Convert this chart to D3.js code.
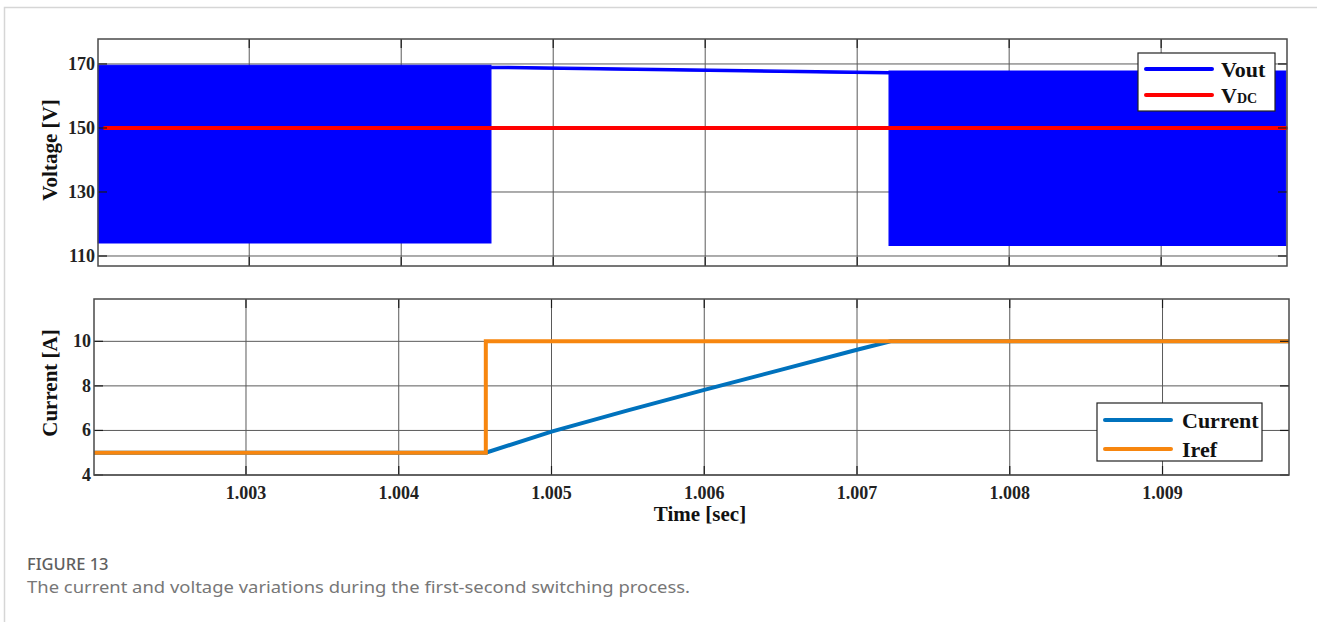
<!DOCTYPE html>
<meta charset="utf-8">
<script src="https://d3js.org/d3.v7.min.js"></script>
<style>
  body { margin: 0; background: #fff; }
  .tick-lbl { font-family: "Liberation Serif", serif; font-weight: bold; font-size: 18px; fill: #222; }
  .ax-lbl { font-family: "Liberation Serif", serif; font-weight: bold; font-size: 21px; fill: #111; }
  .leg { font-family: "Liberation Serif", serif; font-weight: bold; font-size: 22px; fill: #111; }
</style>
<div id="chart"></div>
<script>

// time axis ticks (both panels)
var timeTicks = [1.003, 1.004, 1.005, 1.006, 1.007, 1.008, 1.009];
var voltTicks = [110, 130, 150, 170];
var currTicks = [4, 6, 8, 10];

// Vout envelope (switching band)
var voutT  = [1.002007, 1.00459, 1.00459, 1.00721, 1.00721, 1.00982];
var voutHi = [169.6, 169.6, 169.3, 167.6, 167.8, 167.8];
var voutLo = [114.1, 114.1, 168.6, 166.9, 113.3, 113.3];

// DC link voltage
var vdcT = [1.00205, 1.00982];
var vdcV = [150, 150];

// load current and reference
var curT = [1.002005, 1.00457, 1.005, 1.0055, 1.006, 1.0065, 1.007, 1.00722, 1.009828];
var curV = [5, 5, 5.95, 6.9, 7.82, 8.72, 9.62, 10, 10];
var irefT = [1.002005, 1.00457, 1.00457, 1.009828];
var irefV = [5, 5, 10, 10];

var W = 1317, H = 622;
var svg = d3.select("#chart").append("svg")
  .attr("width", W).attr("height", H);

svg.append("rect").attr("width", W).attr("height", H).attr("fill", "#fff");

// page frame (left and top edges)
svg.append("path")
  .attr("d", "M4.5," + H + "V7.5H" + W)
  .attr("fill", "none").attr("stroke", "#d6d6d6").attr("stroke-width", 1.5);

var tDomain = [1.002005, 1.009828];

function panel(box, yDomain, yTicks, showX) {
  var x = d3.scaleLinear().domain(tDomain).range([box.left, box.right]);
  var y = d3.scaleLinear().domain(yDomain).range([box.bottom, box.top]);
  var g = svg.append("g");
  // grid
  g.selectAll(".gx").data(timeTicks).enter().append("line")
    .attr("x1", function(d) { return x(d); }).attr("x2", function(d) { return x(d); })
    .attr("y1", box.top).attr("y2", box.bottom)
    .attr("stroke", "#5a5a5a").attr("stroke-width", 1);
  g.selectAll(".gy").data(yTicks).enter().append("line")
    .attr("x1", box.left).attr("x2", box.right)
    .attr("y1", function(d) { return y(d); }).attr("y2", function(d) { return y(d); })
    .attr("stroke", "#5a5a5a").attr("stroke-width", 1);
  // y tick labels
  g.selectAll(".ly").data(yTicks).enter().append("text")
    .attr("class", "tick-lbl")
    .attr("x", box.left - 3)
    .attr("y", function(d) { return y(d) + 6; })
    .attr("text-anchor", "end")
    .text(function(d) { return d; });
  if (showX) {
    g.selectAll(".lx").data(timeTicks).enter().append("text")
      .attr("class", "tick-lbl")
      .attr("x", function(d) { return x(d); })
      .attr("y", box.bottom + 24)
      .attr("text-anchor", "middle")
      .text(function(d) { return d3.format(".3f")(d); });
  }
  return {x: x, y: y, g: g};
}

function frame(p, box, yTicks) {
  var g = svg.append("g");
  var tk = 9;
  yTicks.forEach(function(d) {
    var yy = p.y(d);
    g.append("line").attr("x1", box.left).attr("x2", box.left + tk).attr("y1", yy).attr("y2", yy)
      .attr("stroke", "#1a1a1a").attr("stroke-width", 1.2);
    g.append("line").attr("x1", box.right - tk).attr("x2", box.right).attr("y1", yy).attr("y2", yy)
      .attr("stroke", "#1a1a1a").attr("stroke-width", 1.2);
  });
  timeTicks.forEach(function(d) {
    var xx = p.x(d);
    g.append("line").attr("x1", xx).attr("x2", xx).attr("y1", box.bottom - tk).attr("y2", box.bottom)
      .attr("stroke", "#1a1a1a").attr("stroke-width", 1.2);
    g.append("line").attr("x1", xx).attr("x2", xx).attr("y1", box.top).attr("y2", box.top + tk)
      .attr("stroke", "#1a1a1a").attr("stroke-width", 1.2);
  });
  g.append("rect")
    .attr("x", box.left).attr("y", box.top)
    .attr("width", box.right - box.left).attr("height", box.bottom - box.top)
    .attr("fill", "none").attr("stroke", "#4a4a4a").attr("stroke-width", 1.5);
}

function legend(items, bx) {
  var g = svg.append("g");
  g.append("rect").attr("x", bx.x).attr("y", bx.y).attr("width", bx.w).attr("height", bx.h)
    .attr("fill", "#fff").attr("stroke", "#222").attr("stroke-width", 1.2);
  items.forEach(function(it, i) {
    var yy = bx.y + bx.first + i * bx.step;
    g.append("line").attr("x1", bx.x + 8).attr("x2", bx.x + 74).attr("y1", yy).attr("y2", yy)
      .attr("stroke", it.color).attr("stroke-width", 4).attr("stroke-linecap", "round");
    var t = g.append("text").attr("class", "leg").attr("x", bx.x + bx.tx).attr("y", yy + 8);
    t.append("tspan").text(it.main);
    if (it.sub) t.append("tspan").attr("font-size", 14).text(it.sub);
  });
}

// ---------- top panel: voltage ----------
var topBox = {left: 98, right: 1287, top: 39, bottom: 266};
var pv = panel(topBox, [106.875, 177.8], voltTicks, false);

var band = d3.area()
  .x(function(d, i) { return pv.x(voutT[i]); })
  .y0(function(d, i) { return pv.y(voutLo[i]); })
  .y1(function(d, i) { return pv.y(voutHi[i]); });
pv.g.append("path").datum(voutT)
  .attr("d", band)
  .attr("fill", "#0000ff").attr("stroke", "#0000ff").attr("stroke-width", 1.2);

var vdcLine = d3.line()
  .x(function(d, i) { return pv.x(vdcT[i]); })
  .y(function(d, i) { return pv.y(vdcV[i]); });
pv.g.append("path").datum(vdcT)
  .attr("d", vdcLine)
  .attr("fill", "none").attr("stroke", "#ff0000").attr("stroke-width", 4).attr("stroke-linecap", "round");

frame(pv, topBox, voltTicks);

svg.append("text").attr("class", "ax-lbl")
  .attr("transform", "translate(57,150) rotate(-90)")
  .attr("text-anchor", "middle")
  .text("Voltage [V]");

legend([{color: "#0000ff", main: "Vout"}, {color: "#ff0000", main: "V", sub: "DC"}],
  {x: 1138, y: 53, w: 137, h: 58, first: 16, step: 26, tx: 83});

// ---------- bottom panel: current ----------
var botBox = {left: 94, right: 1289, top: 299, bottom: 475};
var pc = panel(botBox, [4, 11.9], currTicks, true);

var curLine = d3.line()
  .x(function(d, i) { return pc.x(curT[i]); })
  .y(function(d, i) { return pc.y(curV[i]); });
pc.g.append("path").datum(curT)
  .attr("d", curLine)
  .attr("fill", "none").attr("stroke", "#0072bd").attr("stroke-width", 4);

var irefLine = d3.line()
  .x(function(d, i) { return pc.x(irefT[i]); })
  .y(function(d, i) { return pc.y(irefV[i]); });
pc.g.append("path").datum(irefT)
  .attr("d", irefLine)
  .attr("fill", "none").attr("stroke", "#f7860f").attr("stroke-width", 4);

frame(pc, botBox, currTicks);

svg.append("text").attr("class", "ax-lbl")
  .attr("transform", "translate(57,383) rotate(-90)")
  .attr("text-anchor", "middle")
  .text("Current [A]");

svg.append("text").attr("class", "ax-lbl")
  .attr("x", 700).attr("y", 521)
  .attr("text-anchor", "middle")
  .text("Time [sec]");

legend([{color: "#0072bd", main: "Current"}, {color: "#f7860f", main: "Iref"}],
  {x: 1097, y: 403, w: 165, h: 58, first: 17, step: 29, tx: 85});

// ---------- caption ----------
svg.append("text")
  .attr("x", 27).attr("y", 570)
  .attr("font-family", "Noto Sans, sans-serif").attr("font-size", 16.5).attr("font-weight", 500)
  .attr("fill", "#5f5f5f")
  .text("FIGURE 13");
svg.append("text")
  .attr("x", 27).attr("y", 593)
  .attr("font-family", "Noto Sans, sans-serif").attr("font-size", 16.5)
  .attr("fill", "#777")
  .attr("textLength", 663).attr("lengthAdjust", "spacingAndGlyphs")
  .text("The current and voltage variations during the first-second switching process.");

</script>
